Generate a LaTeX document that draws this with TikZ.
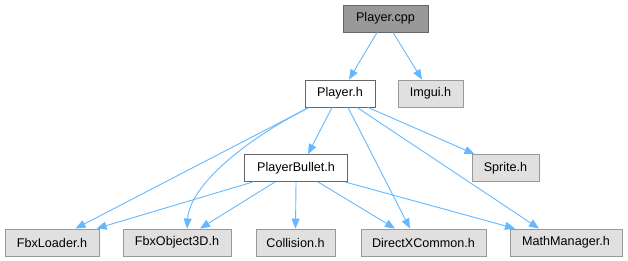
\documentclass[tikz,border=0pt]{standalone}
\usepackage{fontspec}
\setmainfont{Liberation Sans}
\usetikzlibrary{arrows.meta}
\definecolor{edgeblue}{HTML}{63B8FF}
\definecolor{darkframe}{HTML}{666666}
\definecolor{lightframe}{HTML}{999999}
\definecolor{greyfill}{HTML}{E0E0E0}
\definecolor{rootfill}{HTML}{999999}
\tikzset{
  filebox/.style={draw, line width=0.9pt, inner sep=0pt, minimum height=27pt,
    font=\fontsize{12.6}{14}\selectfont, text=black},
  rootbox/.style={filebox, fill=rootfill, draw=darkframe},
  localbox/.style={filebox, fill=white, draw=darkframe},
  extbox/.style={filebox, fill=greyfill, draw=lightframe},
  dep/.style={draw=edgeblue, line width=0.9pt,
    -{Triangle[length=10pt,width=8pt,fill=edgeblue]}}
}
\begin{document}
\begin{tikzpicture}[x=1pt,y=-1pt]
\useasboundingbox (0,0) rectangle (628,261);
% nodes
\node[rootbox,  minimum width=85pt]  (cpp)    at (385.5,18.5)  {Player.cpp};
\node[localbox, minimum width=70pt]  (ph)     at (340,93.5)    {Player.h};
\node[extbox,   minimum width=65pt]  (imgui)  at (430.5,93.5)  {Imgui.h};
\node[localbox, minimum width=103pt] (pb)     at (296,168)     {PlayerBullet.h};
\node[extbox,   minimum width=67pt]  (sprite) at (505.5,168)   {Sprite.h};
\node[extbox,   minimum width=94pt]  (fbxl)   at (52,242.5)    {FbxLoader.h};
\node[extbox,   minimum width=108pt] (fbxo)   at (177,242.5)   {FbxObject3D.h};
\node[extbox,   minimum width=79pt]  (coll)   at (295.5,242.5) {Collision.h};
\node[extbox,   minimum width=125pt] (dxc)    at (423.5,242.5) {DirectXCommon.h};
\node[extbox,   minimum width=112pt] (math)   at (566,242.5)   {MathManager.h};
% dependencies of Player.cpp
\draw[dep] ([xshift=-8.5pt]cpp.south) -- ([xshift=9pt]ph.north);
\draw[dep] ([xshift=7.5pt]cpp.south) -- ([xshift=-8.5pt]imgui.north);
% dependencies of Player.h
\draw[dep] ([xshift=-31pt]ph.south) -- ([xshift=23.5pt]fbxl.north);
\draw[dep] ([xshift=-31pt]ph.south) .. controls (245,140) and (190,185) .. ([xshift=10pt]fbxo.north);
\draw[dep] ([xshift=-8pt]ph.south) -- ([xshift=12pt]pb.north);
\draw[dep] ([xshift=28pt]ph.south) -- ([xshift=-31pt]sprite.north);
\draw[dep] ([xshift=8pt]ph.south) -- ([xshift=-13.5pt]dxc.north);
\draw[dep] ([xshift=17pt]ph.south) -- ([xshift=-27pt]math.north);
% dependencies of PlayerBullet.h
\draw[dep] ([xshift=-43pt]pb.south) -- ([xshift=44.5pt]fbxl.north);
\draw[dep] ([xshift=-21pt]pb.south) -- ([xshift=23pt]fbxo.north);
\draw[dep] (pb.south) -- (coll.north);
\draw[dep] ([xshift=22pt]pb.south) -- ([xshift=-28.5pt]dxc.north);
\draw[dep] ([xshift=49pt]pb.south) -- ([xshift=-51pt]math.north);
\end{tikzpicture}
\end{document}
